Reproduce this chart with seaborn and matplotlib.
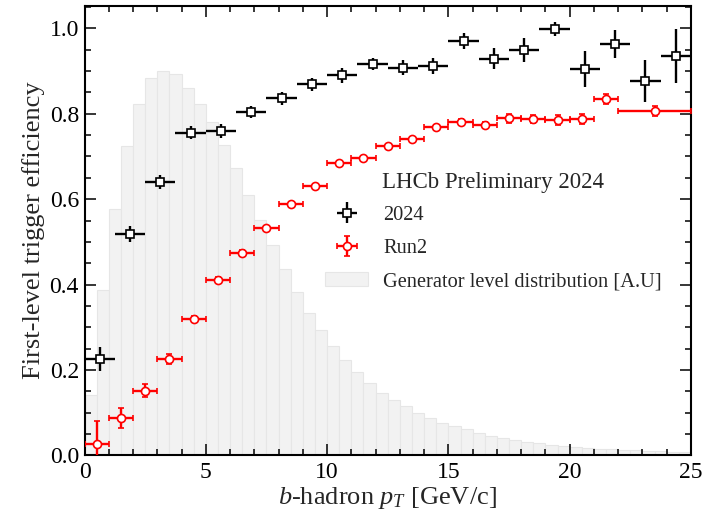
import numpy as np
import pandas as pd
import matplotlib
matplotlib.use("Agg")
import matplotlib.pyplot as plt
import seaborn as sns

# ---- data ----
hist_edges = [i * 0.5 for i in range(51)]
hist_heights = [0.142, 0.387, 0.576, 0.724, 0.824, 0.883, 0.900, 0.892, 0.861, 0.824,
                0.780, 0.728, 0.672, 0.609, 0.551, 0.492, 0.436, 0.383, 0.333, 0.294,
                0.256, 0.224, 0.196, 0.170, 0.147, 0.131, 0.116, 0.100, 0.088, 0.077,
                0.069, 0.061, 0.053, 0.046, 0.041, 0.036, 0.032, 0.029, 0.025, 0.023,
                0.020, 0.018, 0.016, 0.015, 0.013, 0.012, 0.011, 0.010, 0.009, 0.008]

x2024 = [0.625, 1.875, 3.125, 4.375, 5.625, 6.875, 8.125, 9.375, 10.625, 11.875,
         13.125, 14.375, 15.625, 16.875, 18.125, 19.375, 20.625, 21.875, 23.125, 24.375]
xerr2024 = [0.625] * 20
y2024 = [0.226, 0.519, 0.640, 0.756, 0.760, 0.804, 0.836, 0.869, 0.890, 0.917,
         0.908, 0.912, 0.970, 0.929, 0.949, 0.998, 0.905, 0.964, 0.877, 0.935]
yerr2024 = [0.029, 0.019, 0.017, 0.016, 0.016, 0.014, 0.016, 0.015, 0.017, 0.014,
            0.018, 0.019, 0.019, 0.025, 0.028, 0.017, 0.042, 0.033, 0.050, 0.064]

xrun2 = [0.5, 1.5, 2.5, 3.5, 4.5, 5.5, 6.5, 7.5, 8.5, 9.5, 10.5, 11.5,
         12.5, 13.5, 14.5, 15.5, 16.5, 17.5, 18.5, 19.5, 20.5, 21.5, 23.5]
xerrrun2 = [0.5] * 22 + [1.5]
yrun2 = [0.026, 0.088, 0.152, 0.226, 0.320, 0.412, 0.475, 0.532, 0.588, 0.631,
         0.685, 0.697, 0.724, 0.740, 0.768, 0.781, 0.774, 0.789, 0.788, 0.785,
         0.788, 0.835, 0.806]
yerrrun2 = [0.055, 0.024, 0.016, 0.012, 0.006, 0.005, 0.005, 0.005, 0.005, 0.005,
            0.005, 0.005, 0.005, 0.005, 0.006, 0.006, 0.007, 0.010, 0.010, 0.012,
            0.012, 0.012, 0.012]

# ---- style ----
sns.set_theme(style="ticks")
plt.rcParams['font.family'] = ['Liberation Serif', 'DejaVu Serif']
plt.rcParams['mathtext.fontset'] = 'custom'
plt.rcParams['mathtext.rm'] = 'Liberation Serif'
plt.rcParams['mathtext.it'] = 'Liberation Serif:italic'

fig = plt.figure(figsize=(7.02, 5.13), dpi=100)
ax = fig.add_axes([0.1204, 0.1121, 0.9843 - 0.1204, 0.9889 - 0.1121])
ax.set_axisbelow(False)

edges = np.array(hist_edges)
hist_df = pd.DataFrame({'pt': 0.5 * (edges[:-1] + edges[1:]), 'w': hist_heights})
sns.histplot(data=hist_df, x='pt', weights='w', bins=50, binrange=(0, 25), ax=ax,
             color='#f2f2f2', edgecolor='#e6e6e6', linewidth=0.8, alpha=1,
             label='Generator level distribution [A.U]', zorder=1)

ax.errorbar(x2024, y2024, xerr=xerr2024, yerr=yerr2024, fmt='s', color='black',
            mfc='white', mec='black', ms=6, mew=1.2, elinewidth=1.7, capsize=0,
            label='2024', zorder=4)
ax.errorbar(xrun2, yrun2, xerr=xerrrun2, yerr=yerrrun2, fmt='o', color='red',
            mfc='white', mec='red', ms=5.8, mew=1.2, elinewidth=1.7, capsize=2,
            capthick=1.3, label='Run2', zorder=3)

ax.set_xlim(0, 25)
ax.set_ylim(0, 1.053)
ax.set_xticks([0, 5, 10, 15, 20, 25])
ax.set_yticks([0.0, 0.2, 0.4, 0.6, 0.8, 1.0])
ax.set_yticklabels(['0.0', '0.2', '0.4', '0.6', '0.8', '1.0'])
ax.xaxis.set_minor_locator(matplotlib.ticker.MultipleLocator(1))
ax.yaxis.set_minor_locator(matplotlib.ticker.MultipleLocator(0.05))
ax.tick_params(which='both', direction='in', top=True, right=True, labelsize=17,
               colors='black')
ax.tick_params(which='major', length=8, width=1.1)
ax.tick_params(which='minor', length=4.5, width=1.1)
ax.tick_params(axis='x', pad=5)
ax.tick_params(axis='y', pad=4)
for s in ax.spines.values():
    s.set_linewidth(1.5)
    s.set_color('black')
    s.set_visible(True)

ax.set_xlabel(r'$b$-hadron $p_T$ [GeV/c]', fontsize=19, labelpad=1)
ax.set_ylabel('First-level trigger efficiency', fontsize=19, labelpad=3)

ax.text(0.49, 0.607, 'LHCb Preliminary 2024', transform=ax.transAxes,
        fontsize=16.5, va='center', ha='left')

h, l = ax.get_legend_handles_labels()
order = [l.index('2024'), l.index('Run2'), l.index('Generator level distribution [A.U]')]
ax.legend([h[i] for i in order], [l[i] for i in order], loc='upper left',
          bbox_to_anchor=(0.397, 0.556), frameon=False, fontsize=14.7,
          borderpad=0, borderaxespad=0, handlelength=2.1, handletextpad=0.75,
          labelspacing=0.69)

fig.savefig('out.png', dpi=100)
